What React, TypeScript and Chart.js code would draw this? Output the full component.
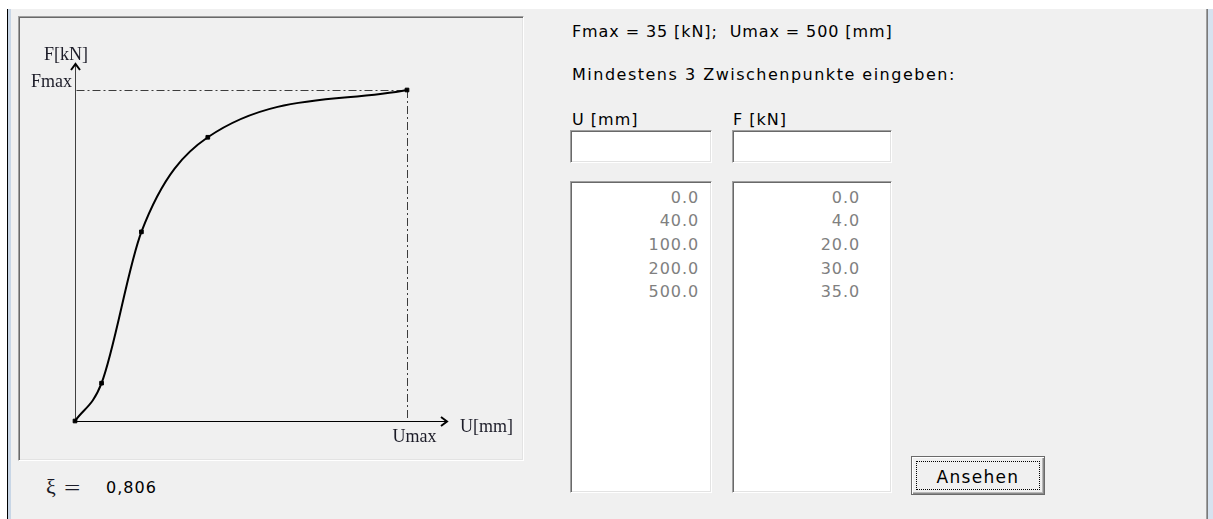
import React, { useEffect, useRef } from "react";
import { Chart, registerables } from "chart.js";

Chart.register(...registerables);

// ---- data ----
const U_VALUES = [0, 40, 100, 200, 500]; // U [mm]
const F_VALUES = [0, 4, 20, 30, 35]; // F [kN]
const U_MAX = 500;
const F_MAX = 35;
const XI_VALUE = "0,806";
const Y_LABEL = "F[kN]";
const Y_MAX_LABEL = "Fmax";
const X_LABEL = "U[mm]";
const X_MAX_LABEL = "Umax";

const SANS = "'DejaVu Sans', 'Noto Sans', sans-serif";
const SERIF = "'Liberation Serif', 'DejaVu Serif', serif";

const axesPlugin = {
  id: "axesDeco",
  beforeDatasetsDraw(chart: any) {
    const { ctx } = chart;
    const xs = chart.scales.x;
    const ys = chart.scales.y;
    const x0 = xs.getPixelForValue(0);
    const y0 = ys.getPixelForValue(0);
    const xM = xs.getPixelForValue(U_MAX);
    const yM = ys.getPixelForValue(F_MAX);
    const ax = Math.round(x0) + 0.5;
    const ay = Math.round(y0) + 0.5;
    const yTip = yM - 26;
    const xTip = xM + 40;
    ctx.save();
    // dash-dot reference lines
    ctx.strokeStyle = "#3c3c3c";
    ctx.lineWidth = 1;
    ctx.setLineDash([8, 3, 2, 3]);
    ctx.beginPath();
    ctx.moveTo(ax + 1, Math.round(yM) + 0.5);
    ctx.lineTo(xM, Math.round(yM) + 0.5);
    ctx.stroke();
    ctx.beginPath();
    ctx.moveTo(Math.round(xM) + 0.5, yM);
    ctx.lineTo(Math.round(xM) + 0.5, y0);
    ctx.stroke();
    ctx.setLineDash([]);
    // y axis
    ctx.strokeStyle = "#404040";
    ctx.beginPath();
    ctx.moveTo(ax, ay);
    ctx.lineTo(ax, yTip);
    ctx.stroke();
    // x axis
    ctx.strokeStyle = "#000";
    ctx.beginPath();
    ctx.moveTo(ax, ay);
    ctx.lineTo(xTip, ay);
    ctx.stroke();
    // arrow heads
    ctx.lineWidth = 2;
    ctx.strokeStyle = "#000";
    ctx.beginPath();
    ctx.moveTo(ax - 4.5, yTip + 6);
    ctx.lineTo(ax, yTip);
    ctx.lineTo(ax + 4.5, yTip + 6);
    ctx.stroke();
    ctx.beginPath();
    ctx.moveTo(xTip - 6, ay - 4.5);
    ctx.lineTo(xTip, ay);
    ctx.lineTo(xTip - 6, ay + 4.5);
    ctx.stroke();
    // labels
    ctx.fillStyle = "#1c1c28";
    ctx.font = "18px " + SERIF;
    ctx.textBaseline = "alphabetic";
    ctx.textAlign = "center";
    ctx.fillText(Y_LABEL, x0 - 9, yM - 30);
    ctx.textAlign = "right";
    ctx.fillText(Y_MAX_LABEL, x0 - 3, yM - 3);
    ctx.textAlign = "center";
    ctx.fillText(X_MAX_LABEL, xM + 7.5, y0 + 21);
    ctx.textAlign = "left";
    ctx.fillText(X_LABEL, xTip + 13, y0 + 11);
    ctx.restore();
  },
};

function ChartPanel() {
  const ref = useRef<HTMLCanvasElement | null>(null);
  useEffect(() => {
    if (!ref.current) return;
    const chart = new Chart(ref.current, {
      type: "line",
      data: {
        datasets: [
          {
            data: U_VALUES.map((u, i) => ({ x: u, y: F_VALUES[i] })),
            borderColor: "#000",
            borderWidth: 2,
            cubicInterpolationMode: "monotone",
            pointStyle: "rect",
            pointRadius: 2.6,
            pointBackgroundColor: "#000",
            pointBorderColor: "#000",
            pointBorderWidth: 1,
            fill: false,
            clip: false,
          } as any,
        ],
      },
      options: {
        animation: false,
        responsive: true,
        maintainAspectRatio: false,
        events: [],
        layout: { padding: { left: 55, top: 72, right: 115, bottom: 38 } },
        scales: {
          x: { type: "linear", min: 0, max: U_MAX, display: false },
          y: { type: "linear", min: 0, max: F_MAX, display: false },
        },
        plugins: { legend: { display: false }, tooltip: { enabled: false } },
      },
      plugins: [axesPlugin],
    });
    return () => chart.destroy();
  }, []);
  return (
    <div style={{ position: "absolute", left: 20, top: 18, width: 502, height: 441 }}>
      <canvas ref={ref} />
    </div>
  );
}

const txt = (
  left: number,
  baseline: number,
  s: string,
  spacing = 1,
  extra: React.CSSProperties = {}
) => (
  <div
    style={{
      position: "absolute",
      left,
      top: baseline - 15.5,
      fontFamily: SANS,
      fontSize: 16,
      lineHeight: "20px",
      letterSpacing: spacing + "px",
      whiteSpace: "pre",
      color: "#000",
      ...extra,
    }}
  >
    {s}
  </div>
);

const sunken: React.CSSProperties = {
  position: "absolute",
  boxSizing: "border-box",
  background: "#fff",
  borderTop: "1px solid #a0a0a0",
  borderLeft: "1px solid #a0a0a0",
  borderRight: "1px solid #fff",
  borderBottom: "1px solid #fff",
  boxShadow: "inset 1px 1px 0 #696969, inset -1px -1px 0 #e3e3e3",
};

function ListValues({ left, width, values }: { left: number; width: number; values: number[] }) {
  return (
    <div
      style={{
        position: "absolute",
        left,
        top: 185.6,
        width,
        textAlign: "right",
        fontFamily: SANS,
        fontSize: 16,
        lineHeight: "23.7px",
        letterSpacing: "1px",
        color: "#808080",
      }}
    >
      {values.map((v, i) => (
        <div key={i}>{v.toFixed(1)}</div>
      ))}
    </div>
  );
}

export default function App() {
  return (
    <div
      style={{
        position: "fixed",
        left: 0,
        top: 0,
        width: 1213,
        height: 519,
        background: "#fff",
        overflow: "hidden",
      }}
    >
      {/* dialog background and frame */}
      <div style={{ position: "absolute", left: 8, top: 9, width: 1200, height: 510, background: "#f0f0f0" }} />
      <div style={{ position: "absolute", left: 7, top: 9, width: 1, height: 510, background: "#000" }} />
      <div style={{ position: "absolute", left: 8, top: 9, width: 3, height: 510, background: "#c8d6e6" }} />
      <div style={{ position: "absolute", left: 1206, top: 9, width: 1, height: 510, background: "#a0a0a0" }} />
      <div style={{ position: "absolute", left: 1207, top: 9, width: 1, height: 510, background: "#7a7a7a" }} />
      <div style={{ position: "absolute", left: 1208, top: 9, width: 5, height: 510, background: "#d6e2ef" }} />

      {/* chart panel */}
      <div
        style={{
          position: "absolute",
          left: 18,
          top: 16,
          width: 506,
          height: 445,
          boxSizing: "border-box",
          background: "#f0f0f0",
          borderTop: "1px solid #a0a0a0",
          borderLeft: "1px solid #a0a0a0",
          borderRight: "1px solid #fff",
          borderBottom: "1px solid #fff",
          boxShadow: "inset 1px 1px 0 #696969, inset -1px -1px 0 #e3e3e3",
        }}
      />
      <ChartPanel />

      {/* xi value */}
      <div
        style={{
          position: "absolute",
          left: 46,
          top: 494 - 19,
          fontFamily: SERIF,
          fontSize: 22,
          lineHeight: "24px",
          whiteSpace: "pre",
          color: "#1c1c28",
        }}
      >
        ξ
      </div>
      <div
        style={{
          position: "absolute",
          left: 64,
          top: 494 - 17,
          fontFamily: SERIF,
          fontSize: 20,
          lineHeight: "22px",
          whiteSpace: "pre",
          color: "#1c1c28",
          transform: "scaleX(1.45)",
          transformOrigin: "left center",
        }}
      >
        =
      </div>
      {txt(106, 493, XI_VALUE)}

      {/* right side form */}
      {txt(572, 37.5, `Fmax = ${F_MAX} [kN];  Umax = ${U_MAX} [mm]`, 0.9)}
      {txt(572, 80, "Mindestens 3 Zwischenpunkte eingeben:", 1.5)}
      {txt(572, 125, "U [mm]")}
      {txt(733, 125, "F [kN]")}

      <div style={{ ...sunken, left: 570, top: 130, width: 142, height: 33 }} />
      <div style={{ ...sunken, left: 732, top: 130, width: 160, height: 33 }} />

      <div style={{ ...sunken, left: 570, top: 181, width: 142, height: 312 }} />
      <div style={{ ...sunken, left: 732, top: 181, width: 160, height: 312 }} />
      <ListValues left={570} width={129.3} values={U_VALUES} />
      <ListValues left={732} width={128.3} values={F_VALUES} />

      {/* button */}
      <div
        style={{
          position: "absolute",
          left: 911,
          top: 456,
          width: 134,
          height: 39,
          boxSizing: "border-box",
          background: "#f0f0f0",
          border: "1px solid #6a6a6a",
          boxShadow: "inset 1px 1px 0 #fff, inset -1px -1px 0 #8a8a8a, inset -2px -2px 0 #b8b8b8",
        }}
      >
        <div
          style={{
            position: "absolute",
            left: 4,
            top: 4,
            right: 4,
            bottom: 4,
            border: "1px dotted #000",
          }}
        />
      </div>
      <div
        style={{
          position: "absolute",
          left: 911,
          width: 134,
          top: 483 - 16.3,
          textAlign: "center",
          fontFamily: SANS,
          fontSize: 17,
          lineHeight: "21px",
          letterSpacing: "1.3px",
          color: "#000",
        }}
      >
        Ansehen
      </div>
    </div>
  );
}
